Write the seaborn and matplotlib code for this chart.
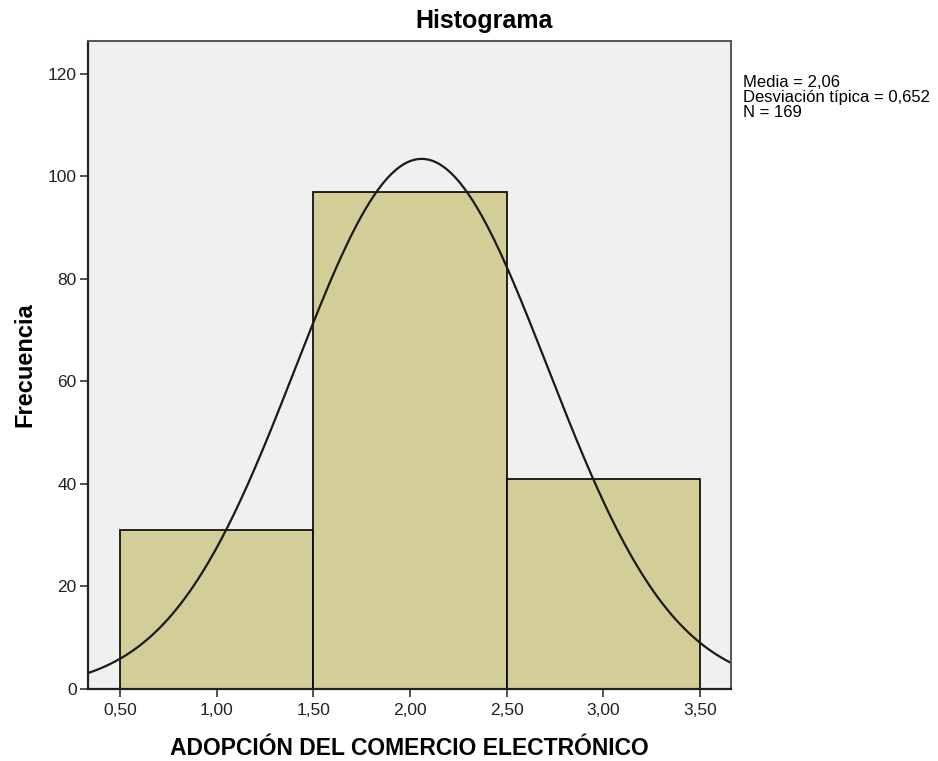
import numpy as np
import pandas as pd
import matplotlib
matplotlib.use('Agg')
import matplotlib.pyplot as plt
import seaborn as sns
from matplotlib.ticker import FuncFormatter

bin_edges = [0.5, 1.5, 2.5, 3.5]
bin_centers = [1.0, 2.0, 3.0]
frecuencias = [31, 97, 41]
media = 2.06
desviacion = 0.652
n_total = 169

sns.set_style('white')
plt.rcParams['font.family'] = ['Liberation Sans', 'DejaVu Sans']
plt.rcParams['text.color'] = 'black'
plt.rcParams['axes.labelcolor'] = 'black'

fig = plt.figure(figsize=(9.38, 7.61), dpi=100)
ax = fig.add_axes([0.0938, 0.0946, 0.6855, 0.8515])
ax.set_facecolor('#F0F0F0')

df = pd.DataFrame({'x': bin_centers, 'f': frecuencias})
sns.histplot(data=df, x='x', weights='f', bins=bin_edges, ax=ax,
             color='#D3CE97', alpha=1, edgecolor='black', linewidth=1.2)

# Courbe normale (mêmes paramètres que la légende)
xs = np.linspace(0.334, 3.66, 300)
ys = n_total * 1.0 / (desviacion * np.sqrt(2 * np.pi)) * np.exp(-0.5 * ((xs - media) / desviacion) ** 2)
sns.lineplot(x=xs, y=ys, ax=ax, color='#1a1a1a', linewidth=1.6)

ax.set_xlim(0.334, 3.66)
ax.set_ylim(0, 126.4)
ax.set_xticks([0.5, 1.0, 1.5, 2.0, 2.5, 3.0, 3.5])
ax.set_yticks([0, 20, 40, 60, 80, 100, 120])
ax.xaxis.set_major_formatter(FuncFormatter(lambda v, p: f'{v:.2f}'.replace('.', ',')))
ax.tick_params(axis='both', direction='out', length=6, width=1.2, color='#333333',
               labelsize=12.5, labelcolor='#222222', bottom=True, left=True)
ax.tick_params(axis='x', pad=4)
ax.tick_params(axis='y', pad=2)

for side in ['top', 'right']:
    ax.spines[side].set_color('#555555')
    ax.spines[side].set_linewidth(1.4)
for side in ['left', 'bottom']:
    ax.spines[side].set_color('#222222')
    ax.spines[side].set_linewidth(1.6)

ax.set_xlabel('ADOPCIÓN DEL COMERCIO ELECTRÓNICO', fontsize=16.5, fontweight='bold', labelpad=14)
ax.set_ylabel('Frecuencia', fontsize=17, fontweight='bold', labelpad=8)
fig.text(484 / 938, 1 - 28 / 761, 'Histograma', fontsize=18, fontweight='bold',
         ha='center', va='baseline')

fig.text(743 / 938, 1 - 75 / 761,
         f'Media = 2,06\nDesviación típica = 0,652\nN = {n_total}',
         fontsize=12, va='top', ha='left', linespacing=1.0)

plt.savefig('out.png', dpi=100)
